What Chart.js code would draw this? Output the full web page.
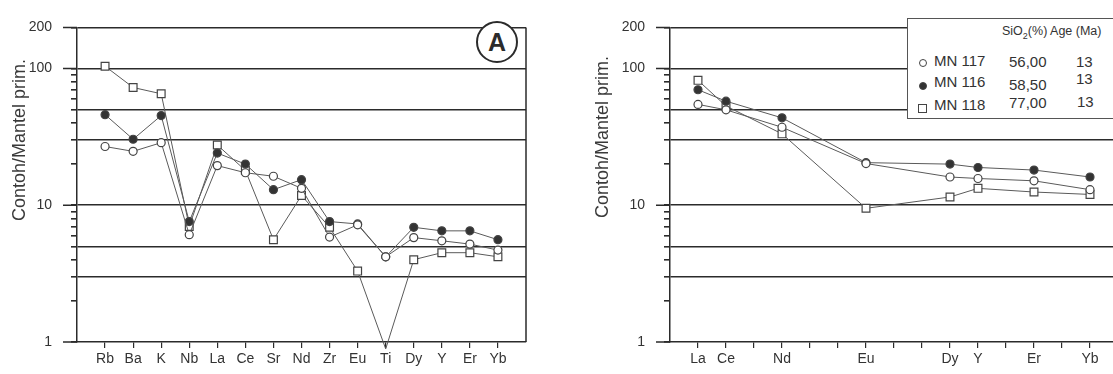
<!DOCTYPE html>
<html>
<head>
<meta charset="utf-8">
<script src="https://cdn.jsdelivr.net/npm/chart.js@4.4.1/dist/chart.umd.min.js"></script>
<style>
  html, body { margin: 0; padding: 0; background: #fff; }
  body { width: 1113px; height: 374px; overflow: hidden; position: relative; font-family: Arial, "Liberation Sans", sans-serif; color: #333; }
  .panel { position: absolute; top: 0; height: 374px; }
  .badge { position: absolute; left: 476px; top: 21px; width: 38px; height: 38px; border: 2px solid #2b2b2b; border-radius: 50%;
           background: #fff; font: bold 25px Arial, sans-serif; color: #2b2b2b; text-align: center; line-height: 38px; }
  .legend { position: absolute; left: 907px; top: 18px; width: 230px; height: 99px; border: 1.5px solid #555; background: #fff; }
  .legend span { position: absolute; white-space: nowrap; }
  .legend .hdr { font-size: 12.5px; top: 5px; left: 94px; }
  .legend .row { font-size: 15px; }
  .sym { position: absolute; width: 6px; height: 6px; border: 1.2px solid #444; }
</style>
</head>
<body>
<div class="panel" style="left:0;width:540px"><canvas id="spider" width="540" height="374"></canvas></div>
<div class="panel" style="left:560px;width:580px"><canvas id="ree" width="580" height="374"></canvas></div>
<div class="badge">A</div>
<div class="legend">
  <span class="hdr">SiO<sub style="font-size:9px">2</sub>(%) Age (Ma)</span>
  <span class="sym" style="left:11px;top:40px;border-radius:50%"></span>
  <span class="row" style="left:26px;top:33px">MN 117</span>
  <span class="row" style="left:101px;top:34px">56,00</span>
  <span class="row" style="left:168px;top:34px">13</span>
  <span class="sym" style="left:11px;top:63px;border-radius:50%;background:#333"></span>
  <span class="row" style="left:26px;top:54px">MN 116</span>
  <span class="row" style="left:101px;top:57px">58,50</span>
  <span class="row" style="left:168px;top:51px">13</span>
  <span class="sym" style="left:10px;top:85px;width:7px;height:7px"></span>
  <span class="row" style="left:26px;top:77px">MN 118</span>
  <span class="row" style="left:101px;top:75px">77,00</span>
  <span class="row" style="left:169px;top:74px">13</span>
</div>
<script>
// spider diagram (primitive mantle normalised)
const spiderLabels = ['Rb', 'Ba', 'K', 'Nb', 'La', 'Ce', 'Sr', 'Nd', 'Zr', 'Eu', 'Ti', 'Dy', 'Y', 'Er', 'Yb'];
const spiderMN117 = [26.9, 24.8, 28.7, 6.1, 19.5, 17.3, 16.3, 13.3, 5.85, 7.2, 4.2, 5.8, 5.5, 5.2, 4.7];
const spiderMN116 = [46, 30.4, 45.3, 7.6, 24.1, 20, 13, 15.4, 7.6, 7.3, 4.2, 6.9, 6.5, 6.5, 5.6];
const spiderMN118 = [104, 72.7, 65.4, 7.0, 27.6, 18, 5.6, 11.8, 6.9, 3.3, 0.89, 4.0, 4.5, 4.5, 4.2];

// REE diagram, tick slots include the elements without data
const reeTickLabels = ['La', 'Ce', '', 'Nd', '', '', 'Eu', '', '', 'Dy', 'Y', '', 'Er', '', 'Yb'];
const reePositions = [0, 1, 3, 6, 9, 10, 12, 14];
const reeMN117 = [54.7, 49.9, 37.2, 20.2, 16.1, 15.7, 15.1, 13];
const reeMN116 = [70, 57.7, 43.6, 20.5, 20, 18.9, 18.1, 16.1];
const reeMN118 = [82, 53.2, 33.3, 9.5, 11.5, 13.3, 12.5, 12];

const yTicks = [1, 2, 3, 4, 5, 6, 7, 8, 9, 10, 20, 30, 40, 50, 60, 70, 80, 90, 100, 200];
const yLines = [3, 5, 10, 30, 50, 100, 200];
const yLabels = [1, 10, 100, 200];
const INK = '#2b2b2b';

const series = [
  { label: 'MN 117', style: 'circle', fill: '#fff', radius: 4 },
  { label: 'MN 116', style: 'circle', fill: '#333', radius: 4 },
  { label: 'MN 118', style: 'rect', fill: '#fff', radius: 5.5 }
];

function makeDatasets(values, xs) {
  return values.map((vals, i) => ({
    label: series[i].label,
    data: vals.map((v, j) => ({ x: xs[j], y: v })),
    borderColor: '#5a5a5a',
    borderWidth: 1,
    pointStyle: series[i].style,
    pointRadius: series[i].radius,
    pointBackgroundColor: series[i].fill,
    pointBorderColor: '#444',
    pointBorderWidth: 1.2,
    clip: false
  }));
}

const framePlugin = {
  id: 'frame',
  afterDraw(chart, args, opts) {
    const { ctx, chartArea, scales: { y } } = chart;
    ctx.save();
    ctx.strokeStyle = INK;
    ctx.lineWidth = 1.5;
    ctx.beginPath();
    yLabels.forEach(v => {
      const py = y.getPixelForValue(v);
      ctx.moveTo(chartArea.left - 14, py);
      ctx.lineTo(chartArea.left, py);
    });
    if (opts.rightBorder) {
      ctx.moveTo(chartArea.right, chartArea.top);
      ctx.lineTo(chartArea.right, chartArea.bottom);
    }
    ctx.stroke();
    ctx.translate(opts.titleX, opts.titleY);
    ctx.rotate(-Math.PI / 2);
    ctx.font = '18px Arial';
    ctx.fillStyle = '#3a3a3a';
    ctx.textAlign = 'center';
    ctx.textBaseline = 'middle';
    ctx.fillText('Contoh/Mantel prim.', 0, 0);
    ctx.restore();
  }
};

function makeChart(id, datasets, tickLabels, xMax, yWidth, padRight, frame) {
  return new Chart(document.getElementById(id), {
    type: 'line',
    data: { datasets },
    plugins: [framePlugin],
    options: {
      responsive: false,
      animation: false,
      devicePixelRatio: 1,
      layout: { padding: { top: 14, right: padRight, bottom: 0, left: 0 } },
      plugins: { legend: { display: false }, tooltip: { enabled: false }, frame },
      scales: {
        x: {
          type: 'linear',
          min: -1,
          max: xMax,
          afterBuildTicks: s => { s.ticks = tickLabels.map((_, i) => ({ value: i })); },
          afterFit: s => { s.height = 32; },
          ticks: {
            autoSkip: false,
            maxRotation: 0,
            padding: 3,
            color: '#333',
            font: { family: 'Arial', size: 14 },
            callback: v => tickLabels[v] || ''
          },
          grid: { drawOnChartArea: false, tickLength: 6, color: INK, lineWidth: 1.2 },
          border: { color: INK, width: 1.5 }
        },
        y: {
          type: 'logarithmic',
          min: 1,
          max: 200,
          afterBuildTicks: s => { s.ticks = yTicks.map(v => ({ value: v })); },
          afterFit: s => { s.width = yWidth; },
          ticks: {
            autoSkip: false,
            padding: 19,
            color: '#333',
            font: { family: 'Arial', size: 14 },
            callback: v => yLabels.includes(v) ? String(v) : ''
          },
          grid: {
            tickLength: 6,
            lineWidth: 1.6,
            color: c => yLines.includes(c.tick.value) ? INK : 'rgba(0,0,0,0)',
            tickColor: INK
          },
          border: { color: INK, width: 1.5 }
        }
      }
    }
  });
}

makeChart('spider',
  makeDatasets([spiderMN117, spiderMN116, spiderMN118], spiderLabels.map((_, i) => i)),
  spiderLabels, 15, 77, 14,
  { rightBorder: true, titleX: 20, titleY: 140 });

makeChart('ree',
  makeDatasets([reeMN117, reeMN116, reeMN118], reePositions),
  reeTickLabels, 15.5, 110, 8,
  { rightBorder: false, titleX: 43, titleY: 137 });
</script>
</body>
</html>
